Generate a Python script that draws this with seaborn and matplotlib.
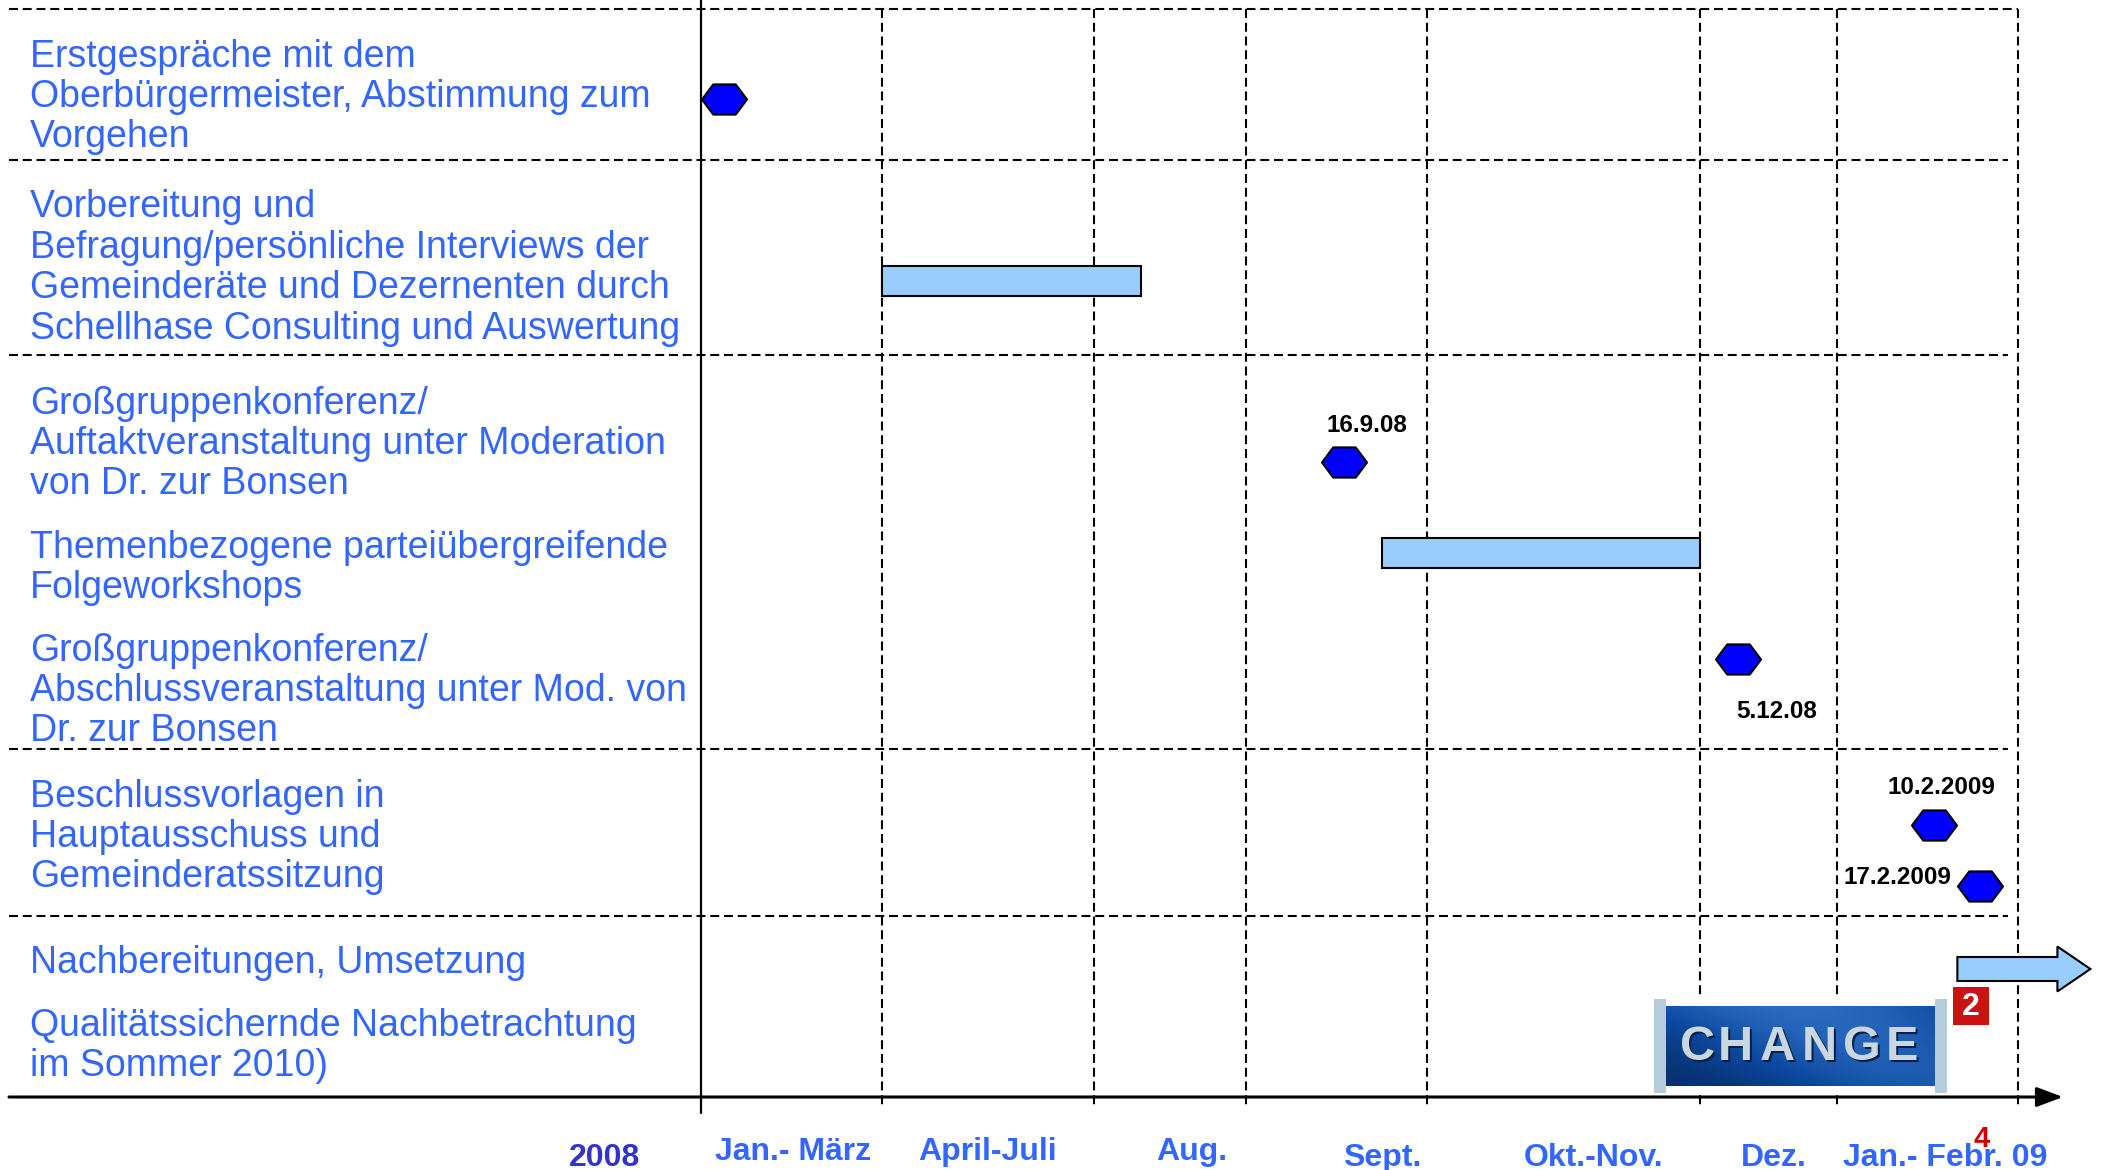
import numpy as np
import pandas as pd
import matplotlib
matplotlib.use("Agg")
import matplotlib.pyplot as plt
import seaborn as sns
from matplotlib.path import Path
from matplotlib.patches import Rectangle, FancyArrow
from matplotlib.transforms import blended_transform_factory

# ------------------------------------------------------------------ data
task_labels = [
    "Erstgespräche mit dem\nOberbürgermeister, Abstimmung zum\nVorgehen",
    "Vorbereitung und\nBefragung/persönliche Interviews der\nGemeinderäte und Dezernenten durch\nSchellhase Consulting und Auswertung",
    "Großgruppenkonferenz/\nAuftaktveranstaltung unter Moderation\nvon Dr. zur Bonsen",
    "Themenbezogene parteiübergreifende\nFolgeworkshops",
    "Großgruppenkonferenz/\nAbschlussveranstaltung unter Mod. von\nDr. zur Bonsen",
    "Beschlussvorlagen in\nHauptausschuss und\nGemeinderatssitzung",
    "Nachbereitungen, Umsetzung",
    "Qualitätssichernde Nachbetrachtung\nim Sommer 2010)",
]
task_y = [85, 256, 432, 556, 679, 825, 951, 1034]

period_labels = ["Jan.- März", "April-Juli", "Aug.", "Sept.", "Okt.-Nov.", "Dez.", "Jan.- Febr. 09"]
period_bounds = [0, 3, 7, 8, 9, 11, 12, 14]          # months since 1 Jan 2008
period_widths = [181, 212, 152, 181, 273, 137, 181]  # column widths of the time grid
period_label_x = [1.52, 5.0, 7.64, 8.75, 10.22, 11.54, 13.2]
period_label_row = [0, 0, 0, 1, 1, 1, 1]
year_label = "2008"

row_rules = [0, 151, 346, 740, 907]

milestone_x = [0.38, 8.54, 11.28, 13.07, 13.58]
milestone_y = [90, 453, 650, 816, 877]
milestone_text = ["", "16.9.08", "5.12.08", "10.2.2009", "17.2.2009"]
milestone_dx = [0, 23, 38, 8, -83]
milestone_dy = [0, -37, 53, -38, -8]

bar_start = [3.0, 8.75]
bar_end = [7.31, 11.0]
bar_y = [271.5, 544]

arrow_start = 13.33
arrow_end = 14.80
arrow_y = 960

# ------------------------------------------------------------------ style
sns.set_theme(style="white")
plt.rcParams["font.family"] = ["Liberation Sans", "DejaVu Sans"]

W, H = 2103, 1170
fig = plt.figure(figsize=(W / 100, H / 100), dpi=100)
fig.patch.set_facecolor("white")

X0, X1, YT, YB = 701, 2018, 9, 1097
ax = fig.add_axes([X0 / W, 1 - YB / H, (X1 - X0) / W, (YB - YT) / H])

# piecewise time scale (months -> grid width)
edges_px = np.concatenate([[0], np.cumsum(period_widths)]).astype(float)
pb = np.array(period_bounds, dtype=float)
slope_l = period_widths[0] / (pb[1] - pb[0])
slope_r = period_widths[-1] / (pb[-1] - pb[-2])
m_ext = np.concatenate([[pb[0] - 60], pb, [pb[-1] + 60]])
p_ext = np.concatenate([[edges_px[0] - 60 * slope_l], edges_px, [edges_px[-1] + 60 * slope_r]])


def fwd(m):
    return np.interp(m, m_ext, p_ext)


def inv(p):
    return np.interp(p, p_ext, m_ext)


ax.set_xscale("function", functions=(fwd, inv))
ax.set_xlim(pb[0], pb[-1])
ax.set_ylim(YB - YT, 0)
ax.axis("off")

dash = (0, (4.3, 2.3))
LW = 1.5

# vertical grid lines
for b in period_bounds[1:]:
    ax.plot([b, b], [0, 1098], color="black", lw=LW, ls=dash, clip_on=False, zorder=1)
ax.plot([0, 0], [-YT, 1104], color="black", lw=1.6, clip_on=False, zorder=2)

# horizontal row rules (spanning label column too)
tr_fx = blended_transform_factory(fig.transFigure, ax.transData)
for i, r in enumerate(row_rules):
    xe = 2018 if i == 0 else 2008
    ax.plot([9 / W, xe / W], [r, r], transform=tr_fx, color="black", lw=LW, ls=dash,
            clip_on=False, zorder=1)

# bottom time axis with arrow
ax.annotate("", xy=(2063 / W, YB - YT), xytext=(9 / W, YB - YT),
            xycoords=tr_fx, textcoords=tr_fx,
            arrowprops=dict(arrowstyle="-|>,head_length=0.8,head_width=0.3",
                            lw=2.2, color="black", shrinkA=0, shrinkB=0,
                            mutation_scale=20), annotation_clip=False)

# task labels
for lab, y in zip(task_labels, task_y):
    ax.text(30 / W, y + 3, lab, transform=tr_fx, ha="left", va="center",
            fontsize=27, color="#3366ff", linespacing=1.155, clip_on=False)

# bars
ax.barh(bar_y, np.array(bar_end) - np.array(bar_start), left=bar_start, height=30,
        color="#99ccff", edgecolor="black", linewidth=1.5, zorder=3)

# arrow for ongoing work
ax.add_patch(FancyArrow(arrow_start, arrow_y, arrow_end - arrow_start, 0, width=24,
                        head_width=45, head_length=33 / slope_r,
                        length_includes_head=True, facecolor="#99ccff",
                        edgecolor="black", linewidth=1.5, clip_on=False, zorder=3))

# milestones (stretched hexagons)
hex_path = Path([(-1, 0), (-0.5, 0.67), (0.5, 0.67), (1, 0), (0.5, -0.67), (-0.5, -0.67), (-1, 0)],
                [Path.MOVETO] + [Path.LINETO] * 5 + [Path.CLOSEPOLY])
ms = pd.DataFrame({"x": milestone_x, "y": milestone_y})
sns.scatterplot(data=ms, x="x", y="y", marker=hex_path, s=(45 * 0.72) ** 2,
                color="#0000ff", edgecolor="black", linewidth=1.5, ax=ax,
                clip_on=False, zorder=4, legend=False)
ax.set_xlim(pb[0], pb[-1])
ax.set_ylim(YB - YT, 0)
ax.axis("off")

for x, y, t, dx, dy in zip(milestone_x, milestone_y, milestone_text, milestone_dx, milestone_dy):
    if t:
        ax.annotate(t, xy=(x, y), xytext=(dx * 0.72, -dy * 0.72), textcoords="offset points",
                    ha="center", va="center", fontsize=17.5, fontweight="bold", color="black",
                    annotation_clip=False)

# period labels under the axis
tr_xf = blended_transform_factory(ax.transData, fig.transFigure)
row_ypx = [1152, 1158]
for lab, x, r in zip(period_labels, period_label_x, period_label_row):
    ax.text(x, 1 - row_ypx[r] / H, lab, transform=tr_xf, ha="center", va="center",
            fontsize=23, fontweight="bold", color="#3366ff", clip_on=False)
fig.text(605 / W, 1 - 1158 / H, year_label, ha="center", va="center",
         fontsize=23, fontweight="bold", color="#3333cc")
fig.text(1982 / W, 1 - 1139 / H, "4", ha="center", va="center",
         fontsize=21, fontweight="bold", color="#cc0000", zorder=10)

# CHANGE logo
LX0, LY0, LX1, LY1 = 1654, 987, 1990, 1094
lax = fig.add_axes([LX0 / W, 1 - LY1 / H, (LX1 - LX0) / W, (LY1 - LY0) / H], zorder=5)
lax.set_xlim(0, LX1 - LX0)
lax.set_ylim(LY1 - LY0, 0)
lax.axis("off")
lax.add_patch(Rectangle((0, 12), 293, 94, facecolor="white", edgecolor="none"))
lax.add_patch(Rectangle((0, 12), 12, 94, facecolor="#b5cddb", edgecolor="none"))
lax.add_patch(Rectangle((281, 12), 12, 94, facecolor="#b5cddb", edgecolor="none"))
gx = np.linspace(0, 1, 200)
gy = np.linspace(0, 1, 60)
GX, GY = np.meshgrid(gx, gy)
g = 0.5 + 0.35 * np.sin(GX * 3.2 - GY * 1.5) - 0.25 * GY
lax.imshow(g, cmap=sns.blend_palette(["#07306f", "#0d48a0", "#2a6cc0"], as_cmap=True),
           extent=(12, 281, 99, 19), aspect="auto", zorder=1)
letters = "CHANGE"
letter_x = [44, 81, 123, 165, 208, 248]
for ch, lx in zip(letters, letter_x):
    lax.text(lx + 2, 62.5, ch, ha="center", va="center", fontsize=35, fontweight="bold",
             color="#06204a", zorder=2)
    lax.text(lx, 60.5, ch, ha="center", va="center", fontsize=35, fontweight="bold",
             color="#c9d7e0", zorder=3)
lax.add_patch(Rectangle((299, 0), 36, 38, facecolor="#cc1111", edgecolor="none"))
lax.text(317, 20, "2", ha="center", va="center", fontsize=23, fontweight="bold",
         color="white")

fig.savefig("out.png", dpi=100, facecolor="white")
